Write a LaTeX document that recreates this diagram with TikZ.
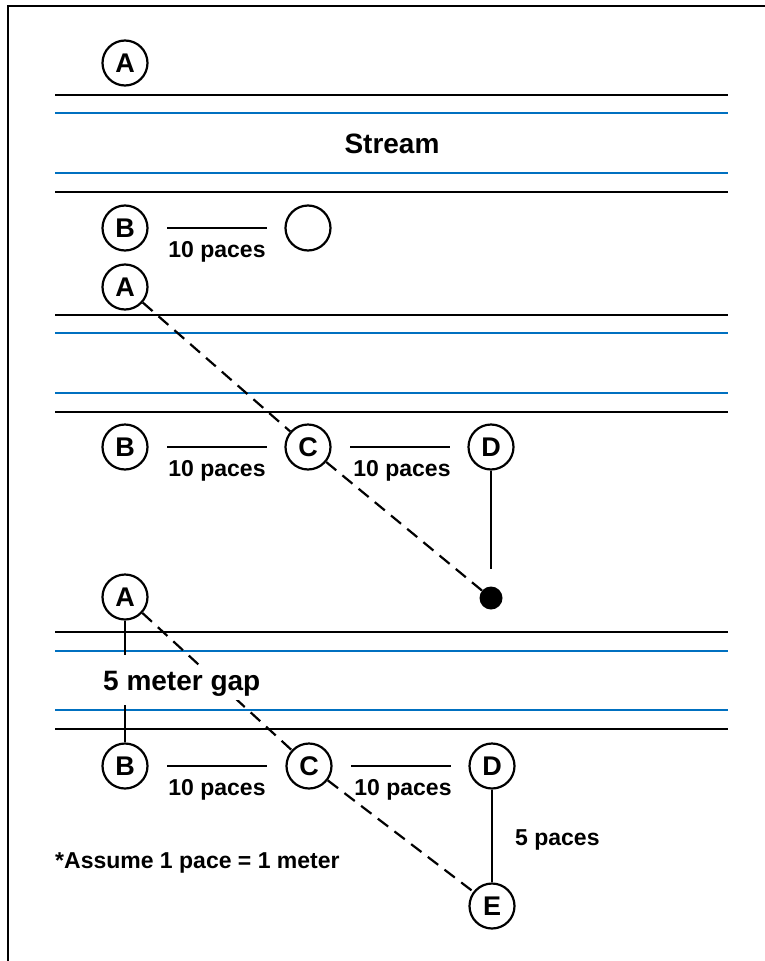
\documentclass[tikz,border=0pt]{standalone}
\usepackage{fontspec}
\setmainfont{Liberation Sans}
\usepackage{tikz}
\usetikzlibrary{positioning}
\definecolor{streamblue}{RGB}{0,112,192}

\tikzset{
  marker/.style={circle, draw, line width=2.2pt, fill=white, minimum size=45pt, inner sep=0pt, font=\fontsize{27}{31}\selectfont\bfseries},
  bank/.style={line width=2.4pt},
  water/.style={line width=2.4pt, color=streamblue},
  pacing/.style={line width=2.2pt},
  sight/.style={line width=2.2pt, dash pattern=on 13pt off 8pt},
  lbl/.style={font=\fontsize{23}{27}\selectfont\bfseries, inner sep=0pt, anchor=base},
  biglbl/.style={font=\fontsize{28}{32}\selectfont\bfseries, inner sep=0pt, anchor=base},
}

\begin{document}
\begin{tikzpicture}[x=1pt, y=-1pt]

\useasboundingbox (0,0) rectangle (765,961);
\draw [line width=2.4pt] (765,6) -- (8,6) -- (8,961);

% top: the stream
\draw [bank] (55,95) -- (728,95);
\draw [water] (55,113) -- (728,113);
\draw [water] (55,173) -- (728,173);
\draw [bank] (55,192) -- (728,192);
\node [biglbl] (stream) at (392,153) {Stream};

\node [marker] (a1) at (125,63) {A};
\node [marker] (b1) at (125,228) {B};
\node [marker] (x1) at (308,228) {};
\draw [pacing] (167,228) -- (267,228);
\node [lbl] (p1) at (217,257) {10 paces};

% middle: sighting across
\draw [bank] (55,315) -- (728,315);
\draw [water] (55,333) -- (728,333);
\draw [water] (55,393) -- (728,393);
\draw [bank] (55,412) -- (728,412);

\node [marker] (a2) at (125,287) {A};
\node [marker] (b2) at (125,447) {B};
\node [marker] (c2) at (308,447) {C};
\node [marker] (d2) at (491,447) {D};
\node [circle, fill, minimum size=23pt, inner sep=0pt] (pt) at (491,598) {};

\draw [pacing] (167,447) -- (267,447);
\node [lbl] (p2) at (217,476) {10 paces};
\draw [pacing] (350,447) -- (450,447);
\node [lbl] (p3) at (402,476) {10 paces};

\draw [pacing] (d2) -- (491,569);
\draw [sight] (a2) -- (c2);
\draw [sight] (c2) -- (pt);

% bottom: the answer
\draw [bank] (55,632) -- (728,632);
\draw [water] (55,651) -- (728,651);
\draw [water] (55,710) -- (728,710);
\draw [bank] (55,729) -- (728,729);

\node [marker] (a3) at (125,597) {A};
\node [marker] (b3) at (125,766) {B};
\node [marker] (c3) at (309,766) {C};
\node [marker] (d3) at (492,766) {D};
\node [marker] (e3) at (492,906) {E};

\coordinate (g1) at (125,655);
\coordinate (g2) at (125,705);
\draw [pacing] (a3) -- (g1);
\draw [pacing] (g2) -- (b3);

\draw [pacing] (167,766) -- (267,766);
\node [lbl] (p4) at (217,795) {10 paces};
\draw [pacing] (351,766) -- (451,766);
\node [lbl] (p5) at (403,795) {10 paces};

\draw [pacing] (d3) -- (e3);
\node [lbl, anchor=base west] (p6) at (515,845) {5 paces};
\draw [sight] (a3) -- (c3);
\draw [sight] (c3) -- (e3);

\node [biglbl, anchor=base west, fill=white, inner sep=4pt] (gap) at (99,690) {5 meter gap};

\node [lbl, anchor=base west] (note) at (55,868) {*Assume 1 pace = 1 meter};

\end{tikzpicture}
\end{document}
